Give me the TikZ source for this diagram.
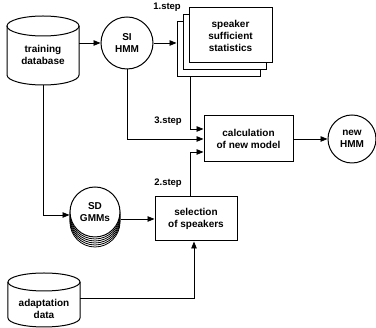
\documentclass[tikz,border=0pt]{standalone}
\usepackage{fontspec}
\setmainfont{Liberation Sans}
\usetikzlibrary{arrows.meta}
\begin{document}
\begin{tikzpicture}[x=1pt,y=-1pt,
  txt/.style={font=\fontsize{10}{12}\selectfont\bfseries, align=center},
  box/.style={draw, line width=1pt, fill=white, txt, inner sep=0pt},
  circ/.style={draw, circle, line width=1pt, fill=white, txt, inner sep=0pt},
  arr/.style={-{Triangle[length=7pt,width=5.5pt]}, line width=0.8pt},
  lbl/.style={font=\fontsize{9.5}{10}\selectfont\bfseries, inner sep=0pt},
  cyl/.style={line width=1pt}]
\useasboundingbox (0,0) rectangle (376,328);

% training database cylinder
\fill[white] (7,26) -- (7,75) arc[start angle=180,end angle=360,x radius=36pt,y radius=10pt] -- (79,26) -- cycle;
\draw[cyl] (7,26) -- (7,75) arc[start angle=180,end angle=360,x radius=36pt,y radius=10pt] -- (79,26);
\draw[cyl] (43,26) ellipse[x radius=36pt, y radius=10pt];
\node[txt, minimum width=72pt, minimum height=69pt, inner sep=0pt] (tdb) at (43,50.5) {};
\node[txt] at (43,55) {training\\database};

% adaptation data cylinder
\fill[white] (8,282) -- (8,318) arc[start angle=180,end angle=360,x radius=36pt,y radius=9pt] -- (80,282) -- cycle;
\draw[cyl] (8,282) -- (8,318) arc[start angle=180,end angle=360,x radius=36pt,y radius=9pt] -- (80,282);
\draw[cyl] (44,282) ellipse[x radius=36pt, y radius=9pt];
\node[txt, minimum width=72pt, minimum height=54pt, inner sep=0pt] (ad) at (44,300) {};
\node[txt] at (44,309) {adaptation\\data};

% SI HMM
\node[circ, minimum size=52pt] (si) at (127,43) {SI\\HMM};

% stacked statistics boxes
\node[box, minimum width=83pt, minimum height=55pt] (ss3) at (218.5,49.5) {};
\node[box, minimum width=83pt, minimum height=55pt] (ss2) at (224.5,42.5) {};
\node[box, minimum width=83pt, minimum height=55pt] (ss) at (230.5,35.5) {speaker\\sufficient\\statistics};

% calculation
\node[box, minimum width=89pt, minimum height=46pt] (calc) at (248.5,139) {calculation\\of new model};

% new HMM
\node[circ, minimum size=48pt] (nh) at (352,139) {new\\HMM};

% SD GMMs stacked
\foreach \k in {5,4,3,2,1} \draw[line width=0.8pt, fill=white] (95,212+2*\k) circle[radius=25pt];
\node[circ, minimum size=50pt] (sdg) at (95,212) {SD\\GMMs};

% selection
\node[box, minimum width=82pt, minimum height=44pt] (sel) at (196,219) {selection\\of speakers};

% labels
\node[lbl, anchor=east] (l1) at (181,7) {1.step};
\node[lbl, anchor=east] (l3) at (182,121) {3.step};
\node[lbl, anchor=east] (l2) at (182,183) {2.step};

% connectors
\draw[arr] (tdb.east |- si.west) -- (si.west);
\draw[arr] (si.east) -- (si.east -| ss3.west);
\draw[arr] ([xshift=14pt]ss3.south west) |- ([yshift=10pt]calc.west);
\draw[arr] (si.south) |- (calc.west);
\draw[arr] ([xshift=-6pt]sel.north) |- ([yshift=-13pt]calc.west);
\draw[arr] (calc.east) -- (nh.west);
\draw[arr] (tdb.south) |- ([yshift=-3pt]sdg.west);
\draw[arr] (sdg.east |- sel.west) -- (sel.west);
\draw[arr] (ad.east |- 0,298) -| ([xshift=-2pt]sel.south);
\end{tikzpicture}
\end{document}
